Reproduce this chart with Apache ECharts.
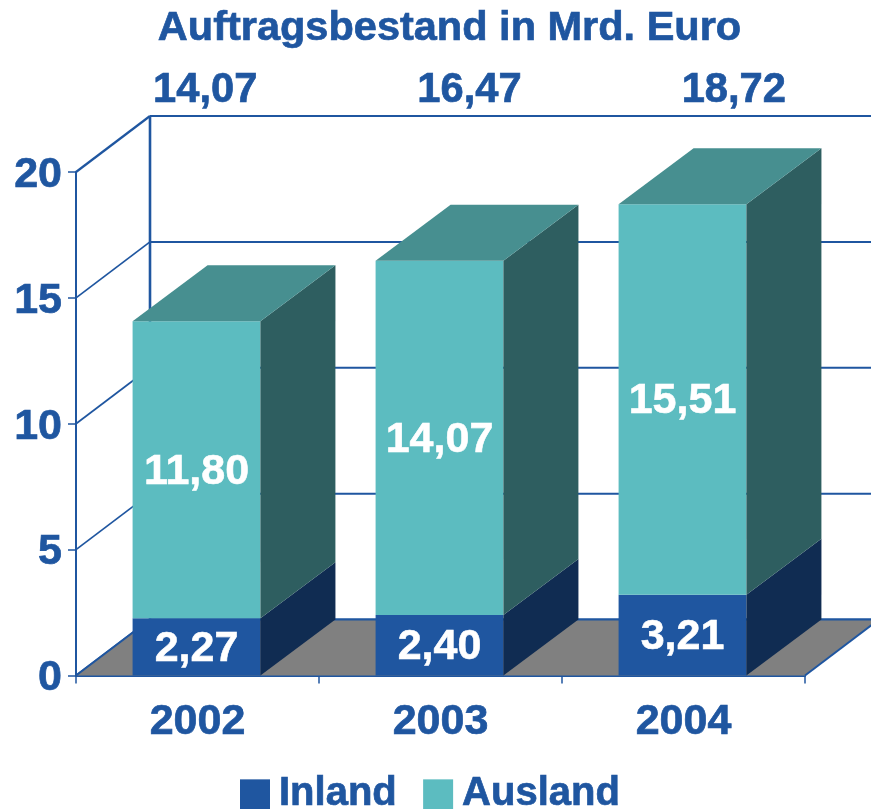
<!DOCTYPE html>
<html><head><meta charset="utf-8">
<style>html,body{margin:0;padding:0;background:#fff}#c{width:871px;height:809px}</style>
<script src="https://cdn.jsdelivr.net/npm/echarts@6/dist/echarts.min.js"></script>
</head><body><div id="c"></div>
<script>
const categories = ['2002', '2003', '2004'];
const totalLabels = ['14,07', '16,47', '18,72'];
const inland = [2.27, 2.40, 3.21];
const ausland = [11.80, 14.07, 15.51];
const yTicks = [0, 5, 10, 15, 20];

const BLUE = '#1f56a0', FONT = '"Liberation Sans", Arial, sans-serif';
const DX = 75, DY = 56, BAR = 0.526;
const fmt = v => v.toFixed(2).replace('.', ',');
const blueText = size => ({ color: BLUE, fontFamily: FONT, fontWeight: 'bold', fontSize: size,
  textBorderColor: BLUE, textBorderWidth: 0.7 });

function poly(points, fill) {
  return { type: 'polygon', shape: { points }, style: { fill }, silent: true };
}
function wallRender(params, api) {
  const v = api.value(0), cs = params.coordSys;
  const y = api.coord([0, v])[1];
  const kids = [
    { type: 'line', shape: { x1: cs.x, y1: y, x2: cs.x + 74, y2: y - DY }, style: { stroke: BLUE, lineWidth: v === 20 ? 2.2 : 1.7 } },
    { type: 'line', shape: { x1: cs.x + 74, y1: y - DY, x2: cs.x + cs.width + 74, y2: y - DY }, style: { stroke: BLUE, lineWidth: 2 } }
  ];
  if (v === 20) {
    const y0 = api.coord([0, 0])[1];
    kids.push({ type: 'line', shape: { x1: cs.x + 74, y1: y - DY, x2: cs.x + 74, y2: y0 - DY }, style: { stroke: BLUE, lineWidth: 2.6 } });
  }
  return { type: 'group', children: kids };
}
function floorRender(params, api) {
  const cs = params.coordSys, y0 = api.coord([0, 0])[1];
  const x = cs.x, w = cs.width;
  return { type: 'group', children: [
    poly([[x, y0], [x + 74, y0 - DY], [x + w + 74, y0 - DY], [x + w, y0]], '#808080'),
    { type: 'line', shape: { x1: x + 74, y1: y0 - DY, x2: x + w + 74, y2: y0 - DY }, style: { stroke: BLUE, lineWidth: 2 } },
    { type: 'line', shape: { x1: x, y1: y0, x2: x + 74, y2: y0 - DY }, style: { stroke: BLUE, lineWidth: 2 } },
    { type: 'line', shape: { x1: x + w, y1: y0, x2: x + w + 74, y2: y0 - DY }, style: { stroke: BLUE, lineWidth: 2 } }
  ] };
}
function boxRender(front, side, top) {
  return function (params, api) {
    const c = api.value(0), a = api.value(1), b = api.value(2);
    const w = api.size([1, 0])[0] * BAR;
    const cx = api.coord([c, 0])[0] - 1;
    const l = cx - w / 2, r = cx + w / 2;
    const y1 = api.coord([c, a])[1], y2 = api.coord([c, b])[1];
    const kids = [
      poly([[l, y1], [r, y1], [r, y2], [l, y2]], front),
      poly([[r, y1], [r + DX, y1 - DY], [r + DX, y2 - DY], [r, y2]], side)
    ];
    if (top) kids.push(poly([[l, y2], [r, y2], [r + DX, y2 - DY], [l + DX, y2 - DY]], top));
    kids.push({ type: 'text', style: { x: cx, y: (y1 + y2) / 2 + 2, text: fmt(b - a), fill: '#fff',
      stroke: '#fff', lineWidth: 0.6, font: 'bold 43px ' + FONT, align: 'center', verticalAlign: 'middle' } });
    return { type: 'group', children: kids };
  };
}
const inlandData = categories.map((_, i) => [i, 0, inland[i]]);
const auslandData = categories.map((_, i) => [i, inland[i], +(inland[i] + ausland[i]).toFixed(2)]);

const chart = echarts.init(document.getElementById('c'), null, { renderer: 'canvas' });
chart.setOption({
  animation: false,
  backgroundColor: '#fff',
  title: { text: 'Auftragsbestand in Mrd. Euro', left: 444.5, textAlign: 'center', top: 3,
    textStyle: blueText(41.5) },
  legend: { data: [{ name: 'Inland' }, { name: 'Ausland' }], left: 240, top: 774, padding: 0, icon: 'rect',
    itemWidth: 30, itemHeight: 30, itemGap: 26, selectedMode: false,
    textStyle: Object.assign(blueText(40), { padding: [0, 0, 0, 4] }) },
  grid: [
    { left: 76, right: 66, top: 172, height: 503.5 },
    { left: 73, right: 5, top: 108, height: 1 }
  ],
  xAxis: [
    { type: 'category', gridIndex: 0, data: categories, position: 'bottom',
      axisLine: { lineStyle: { color: BLUE, width: 2 } },
      axisTick: { show: true, length: 8, lineStyle: { color: BLUE, width: 1.5 } },
      axisLabel: Object.assign(blueText(43), { margin: 25 }) },
    { type: 'category', gridIndex: 1, data: totalLabels, position: 'top',
      axisLine: { show: false }, axisTick: { show: false },
      axisLabel: Object.assign(blueText(41.7), { margin: -4 }) }
  ],
  yAxis: [
    { type: 'value', gridIndex: 0, min: 0, max: 20, interval: 5,
      axisLine: { show: true, lineStyle: { color: BLUE, width: 2 } },
      axisTick: { show: true, length: 8, lineStyle: { color: BLUE, width: 1.5 } },
      splitLine: { show: false },
      axisLabel: Object.assign(blueText(43), { margin: 14, verticalAlign: 'top', lineHeight: 6 }) },
    { type: 'value', gridIndex: 1, show: false }
  ],
  series: [
    { type: 'custom', name: 'wall', data: yTicks.map(t => [t]), renderItem: wallRender, clip: false, z: 1, silent: true,
      encode: { y: 0 } },
    { type: 'custom', name: 'floor', data: [[0]], renderItem: floorRender, clip: false, z: 2, silent: true },
    { type: 'custom', name: 'Inland', data: inlandData, renderItem: boxRender(BLUE, '#102c52', null), clip: false, z: 3,
      itemStyle: { color: BLUE }, encode: { x: 0, y: [1, 2] } },
    { type: 'custom', name: 'Ausland', data: auslandData, renderItem: boxRender('#5cbcc0', '#2e5e60', '#478f90'), clip: false, z: 3,
      itemStyle: { color: '#5cbcc0' }, encode: { x: 0, y: [1, 2] } }
  ]
});
</script></body></html>
